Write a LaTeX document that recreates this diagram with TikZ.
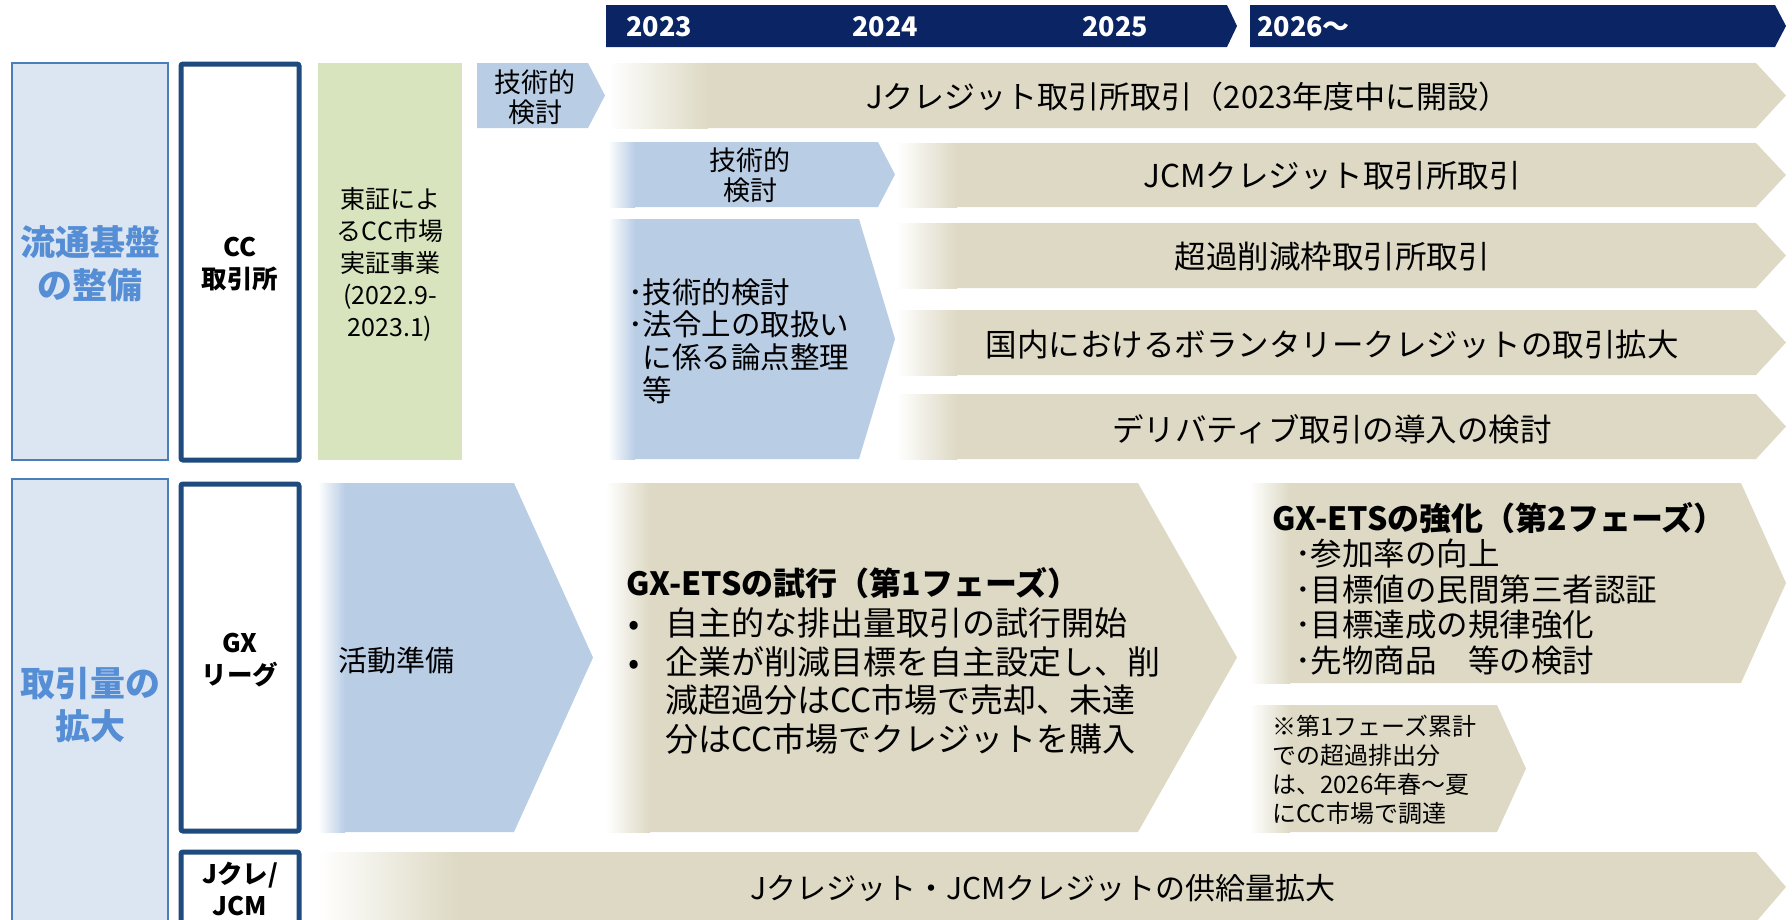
\documentclass[tikz,border=0pt]{standalone}
\usepackage{fontspec}
\setmainfont{Noto Sans CJK JP}
\definecolor{navy}{HTML}{0B2463}
\definecolor{beige}{HTML}{DDD9C4}
\definecolor{ltblue}{HTML}{B9CDE5}
\definecolor{ltgreen}{HTML}{D7E4BD}
\definecolor{paleblue}{HTML}{DCE6F2}
\definecolor{labblue}{HTML}{558ED5}
\definecolor{boxnavy}{HTML}{1F4A7D}
\definecolor{catedge}{HTML}{4A7EBB}
\newcommand{\mychev}[6]{\fill[#6] (#1,#2) -- (#3,#2) -- (#4,{(#2+#5)/2}) -- (#3,#5) -- (#1,#5) -- cycle;}
\newcommand{\myfade}[5]{\shade[left color=white,right color=#5] (#1,#2) rectangle (#3,#4);}
\begin{document}
\begin{tikzpicture}[x=1pt,y=-1pt,
  yr/.style={font=\bfseries\fontsize{27}{30}\selectfont, text=white, inner sep=0pt, anchor=west},
  cat/.style={font=\bfseries\fontsize{35}{43}\selectfont, text=labblue, align=center, inner sep=0pt},
  catbox/.style={fill=paleblue, draw=catedge, line width=1.5pt},
  subbox/.style={fill=white, draw=boxnavy, line width=5pt, rounded corners=2pt},
  sub/.style={font=\bfseries\fontsize{25.5}{32}\selectfont, align=center, inner sep=0pt},
  bartxt/.style={font=\fontsize{31.5}{36}\selectfont, inner sep=0pt},
  small/.style={font=\fontsize{25}{32}\selectfont, align=center, inner sep=0pt},
  list/.style={align=left, inner sep=0pt, anchor=west}]
\useasboundingbox (0,0) rectangle (1792,919);
\clip (0,0) rectangle (1792,919);

% timeline header
\mychev{606}{5}{1227}{1237}{47}{navy}
\mychev{1250}{5}{1775}{1786}{47}{navy}
\node[yr] (y23) at (626,27) {2023};
\node[yr] (y24) at (852,27) {2024};
\node[yr] (y25) at (1082,27) {2025};
\node[yr] (y26) at (1257,27) {2026～};

% left category boxes
\draw[catbox] (12,63) rectangle (168,460);
\node[cat] (c1) at (90,264) {流通基盤\\の整備};
\draw[catbox] (12,479) rectangle (168,930);
\node[cat] (c2) at (90,705) {取引量の\\拡大};

\draw[subbox] (181,64) rectangle (299,460);
\node[sub] (s1) at (240,264) {CC\\取引所};
\draw[subbox] (181,484) rectangle (299,831);
\node[sub] (s2) at (240,660) {GX\\リーグ};
\draw[subbox] (181,852) rectangle (299,940);
\node[sub] (s3) at (240,889) {Jクレ/\\JCM};

% green box
\fill[ltgreen] (318,63) rectangle (462,460);
\node[small] (tse) at (390,264) {東証によ\\るCC市場\\実証事業\\(2022.9-\\2023.1)};

% row 1
\mychev{477}{63}{588}{605}{128}{ltblue}
\node[small, font=\fontsize{27}{30}\selectfont] (t1) at (535,97) {技術的\\検討};
\mychev{608}{63}{1756}{1786}{128}{beige}
\myfade{608}{63}{708}{128}{beige}
\node[bartxt, font=\fontsize{31}{36}\selectfont] (b1) at (1188,97) {Jクレジット取引所取引（2023年度中に開設）};

% row 2
\mychev{608}{142}{878}{895}{207}{ltblue}
\myfade{608}{142}{635}{207}{ltblue}
\node[small, font=\fontsize{27}{30}\selectfont] (t2) at (750,175) {技術的\\検討};
\mychev{897}{143}{1756}{1786}{207}{beige}
\myfade{897}{143}{957}{207}{beige}
\node[bartxt] (b2) at (1332,176) {JCMクレジット取引所取引};

% row 3
\mychev{608}{219}{859}{895}{459}{ltblue}
\myfade{608}{219}{635}{459}{ltblue}
\node[list, font=\fontsize{29.5}{32.7}\selectfont] (t3) at (628,341) {･技術的検討\\･法令上の取扱い\\\phantom{･}に係る論点整理\\\phantom{･}等};

\mychev{897}{223}{1756}{1786}{288}{beige}
\myfade{897}{223}{957}{288}{beige}
\node[bartxt] (b3) at (1332,257) {超過削減枠取引所取引};
\mychev{897}{310}{1756}{1786}{375}{beige}
\myfade{897}{310}{957}{375}{beige}
\node[bartxt] (b4) at (1332,345) {国内におけるボランタリークレジットの取引拡大};
\mychev{897}{394}{1756}{1786}{459}{beige}
\myfade{897}{394}{957}{459}{beige}
\node[bartxt] (b5) at (1332,429) {デリバティブ取引の導入の検討};

% GX league row
\mychev{318}{483}{514}{593}{832}{ltblue}
\myfade{318}{483}{345}{832}{ltblue}
\node[bartxt, font=\fontsize{29}{32}\selectfont, anchor=west] (prep) at (338,660) {活動準備};

\mychev{606}{483}{1138}{1237}{832}{beige}
\myfade{606}{483}{650}{832}{beige}
\node[list, font=\bfseries\fontsize{32}{36}\selectfont] (p1t) at (626,583) {GX-ETSの試行（第1フェーズ）};
\node[list, font=\fontsize{33}{38.5}\selectfont] (p1b) at (628,681)
  {\makebox[37pt][l]{•}自主的な排出量取引の試行開始\\
   \makebox[37pt][l]{•}企業が削減目標を自主設定し、削\\
   \hspace*{37pt}減超過分はCC市場で売却、未達\\
   \hspace*{37pt}分はCC市場でクレジットを購入};

\mychev{1250}{483}{1741}{1786}{683}{beige}
\myfade{1250}{483}{1290}{683}{beige}
\node[list, font=\bfseries\fontsize{32}{36}\selectfont] (p2t) at (1272,518) {GX-ETSの強化（第2フェーズ）};
\node[list, font=\fontsize{31.5}{35.7}\selectfont] (p2b) at (1295,607)
  {･参加率の向上\\･目標値の民間第三者認証\\･目標達成の規律強化\\･先物商品　等の検討};

\mychev{1250}{705}{1497}{1526}{832}{beige}
\myfade{1250}{705}{1290}{832}{beige}
\node[list, font=\fontsize{24}{29}\selectfont] (note) at (1272,770)
  {※第1フェーズ累計\\での超過排出分\\は、2026年春～夏\\にCC市場で調達};

% bottom bar
\mychev{318}{852}{1756}{1786}{922}{beige}
\myfade{318}{852}{458}{922}{beige}
\node[bartxt, font=\fontsize{30}{36}\selectfont] (bb) at (1043,888) {Jクレジット・JCMクレジットの供給量拡大};
\end{tikzpicture}
\end{document}
